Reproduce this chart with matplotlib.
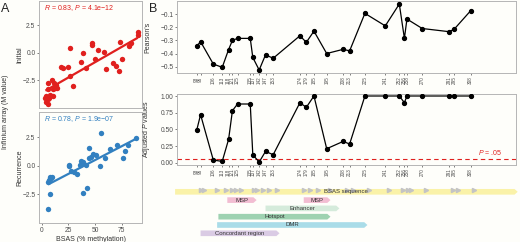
import numpy as np
import matplotlib

matplotlib.use('Agg')
from matplotlib import pyplot as plt
from matplotlib.patches import Polygon

# ---- panel A: BSAS vs Infinium array ----
init_x = [90, 90, 84, 82, 73.5, 75, 67, 70, 72.5, 60, 58.5, 53, 50, 47, 47.5, 42, 39, 36.5,
          26.5, 25, 26.5, 29, 20, 18.5, 9.5, 6, 11.5, 13.5, 12.5, 14.5, 11, 5.5, 8, 10.5,
          4.5, 3.5, 5.5, 7, 4.5, 6]
init_y = [1.85, 1.65, 0.9, 0.6, 0.95, -0.6, -0.9, -1.2, -1.65, -1.5, 0.05, 0.25, -0.6, 0.75,
          0.9, -1.4, -0.05, -0.8, 0.4, -1.3, -2.1, -3.0, -1.35, -1.3, -2.45, -2.75, -2.7,
          -2.9, -3.2, -3.2, -3.3, -3.3, -3.85, -3.9, -3.9, -4.1, -4.2, -4.05, -4.5, -4.6]
rec_x = [88.5, 81, 78, 76, 70.5, 64, 59.5, 55.5, 54.5, 50.5, 48.5, 46, 44.5, 44, 42.5, 39,
         41.5, 38.5, 37, 35.5, 33.5, 30.5, 27.5, 26, 26, 6.5, 7.5, 8.5, 9.5, 6, 8, 6]
rec_y = [2.4, 1.85, 1.25, 0.7, 1.8, 1.45, 0.65, 2.9, -0.05, 0.95, 1.0, 0.8, 1.55, 0.7, -1.9,
         -2.4, 0.05, 0.35, 0.45, 0.1, -0.7, -0.5, -0.45, 0.1, -0.05, -1.25, -1.0, -1.1, -1.0,
         -1.45, -2.45, -3.75]
init_label = '$\\it{R}$ = 0.83, $\\it{P}$ = 4.1e\u221212'
rec_label = '$\\it{R}$ = 0.78, $\\it{P}$ = 1.9e\u221207'

# ---- panel B: per-CpG correlation ----
cpg_pos = [93, 96, 106, 113, 118, 121, 125, 135, 137, 142, 147, 153, 174, 179, 185, 195,
           208, 213, 225, 241, 252, 256, 258, 270, 291, 295, 308]
pearson_r = [-0.343, -0.31, -0.48, -0.505, -0.37, -0.30, -0.285, -0.285, -0.43, -0.525,
             -0.41, -0.436, -0.265, -0.315, -0.23, -0.40, -0.368, -0.38, -0.095, -0.19,
             -0.024, -0.285, -0.138, -0.21, -0.234, -0.216, -0.075]
adj_p = [0.49, 0.72, 0.04, 0.02, 0.35, 0.78, 0.88, 0.88, 0.12, 0.01, 0.17, 0.12, 0.90, 0.83,
         1.0, 0.21, 0.32, 0.28, 1.0, 1.0, 1.0, 0.9, 1.0, 1.0, 1.0, 1.0, 1.0]
p_cut = 0.05

# ---- gene track features ----
feat_name = ['BSAS sequence', 'MSP', 'MSP', 'Enhancer', 'Hotspot', 'DMR', 'Concordant region']
feat_start = [76, 117, 177, 147, 110, 109, 96]
feat_end = [345, 140, 198, 205, 198, 227, 158]
feat_row = [1, 2, 2, 3, 4, 5, 6]
feat_col = {'BSAS sequence': '#faf2a8', 'MSP': '#f2bdd2', 'Enhancer': '#d5ebdb',
            'Hotspot': '#9ed2b1', 'DMR': '#a9dce8', 'Concordant region': '#dacbe4'}

W, H = 520, 242
BG = '#fefefa'
GRID = '#b5b5b5'
TXT = '#4d4d4d'
RED = '#e0201e'
BLUE = '#3280c0'

plt.rcParams['font.family'] = ['Liberation Sans', 'DejaVu Sans']
plt.rcParams['mathtext.fontset'] = 'custom'
plt.rcParams['mathtext.rm'] = 'Liberation Sans'
plt.rcParams['mathtext.it'] = 'Liberation Sans:italic'


def box(l, t, r, b):
    return [l / W, 1 - b / H, (r - l) / W, (b - t) / H]


def style(ax, size=4.8):
    ax.set_facecolor(BG)
    for s in ax.spines.values():
        s.set_color(GRID)
        s.set_linewidth(0.7)
    ax.tick_params(length=1.6, width=0.5, color=TXT, labelcolor=TXT, labelsize=size, pad=1)


def lm_fit(xs, ys):
    mx, my = sum(xs) / len(xs), sum(ys) / len(ys)
    sxy = sum((a - mx) * (c - my) for a, c in zip(xs, ys))
    sxx = sum((a - mx) ** 2 for a in xs)
    slope = sxy / sxx
    return slope, my - slope * mx


fig = plt.figure(figsize=(W / 100, H / 100), dpi=100, facecolor=BG)

# panel A
axA1 = fig.add_axes(box(39, 1, 142, 108))
axA2 = fig.add_axes(box(39, 112, 142, 223))
panels = [(axA1, init_x, init_y, RED, init_label, 'Initial'),
          (axA2, rec_x, rec_y, BLUE, rec_label, 'Recurrence')]
for axA, xs, ys, col, lab, strip in panels:
    style(axA)
    axA.set_xlim(-2.5, 94)
    axA.set_ylim(-5.0, 4.7)
    axA.scatter(xs, ys, s=15, color=col, lw=0, zorder=3)
    slope, icpt = lm_fit(xs, ys)
    x_end = [min(xs), max(xs)]
    y_end = [slope * v + icpt for v in x_end]
    axA.plot(x_end, y_end, color=col, lw=1.6, zorder=6, solid_capstyle='butt')
    axA.set_yticks([-2.5, 0, 2.5])
    axA.set_yticklabels(['\u22122.5', '0.0', '2.5'])
    axA.set_xticks([0, 25, 50, 75])
    axA.text(0.05, 0.985, lab, transform=axA.transAxes, ha='left', va='top', fontsize=5, color=col)
    axA.text(-0.19, 0.5, strip, transform=axA.transAxes, rotation=90, ha='center', va='center',
             fontsize=5, color='#333333')
axA1.tick_params(axis='x', length=0, labelbottom=False)
axA2.set_xlabel('BSAS (% methylation)', fontsize=5, color='#333333', labelpad=1.5)
fig.text(6 / W, 1 - 112 / H, 'Infinium array (M value)', rotation=90, ha='center', va='center',
         fontsize=5, color='#333333')
fig.text(1 / W, 1 - 9 / H, 'A', fontsize=9, ha='left', va='center', color='#222222')

# panel B
axB1 = fig.add_axes(box(177, 1, 516, 73))
axB2 = fig.add_axes(box(177, 94, 516, 165))
style(axB1)
style(axB2)
axB1.plot(cpg_pos, pearson_r, color='black', lw=0.9, marker='o', ms=2.8, zorder=3)
axB1.set_ylim(-0.548, -0.001)
axB1.set_yticks([-0.5, -0.4, -0.3, -0.2, -0.1])
axB1.set_ylabel("Pearson's", fontsize=5, color='#333333', labelpad=2)

axB2.plot(cpg_pos, adj_p, color='black', lw=0.9, marker='o', ms=2.8, zorder=3)
axB2.axhline(p_cut, color=RED, lw=0.8, ls=(0, (4, 3)), zorder=2)
axB2.text(333, 0.16, '$\\it{P}$ = .05', color=RED, fontsize=5, ha='right', va='center')
axB2.set_ylim(-0.034, 1.03)
axB2.set_yticks([0, 0.25, 0.5, 0.75, 1.0])
axB2.set_yticklabels(['0.00', '0.25', '0.50', '0.75', '1.00'])
axB2.set_ylabel('Adjusted $\\it{P}$ values', fontsize=5, color='#333333', labelpad=2)

for axB in (axB1, axB2):
    axB.set_xlim(77.5, 343.6)
    axB.set_xticks(cpg_pos)
    axB.set_xticklabels([str(p) for p in cpg_pos], rotation=90, fontsize=3.3)
    axB.yaxis.set_label_coords(-0.075, 0.5)
fig.text(149 / W, 1 - 9 / H, 'B', fontsize=9, ha='left', va='center', color='#222222')

# gene track
axT = fig.add_axes(box(170, 186, 520, 242))
axT.set_facecolor(BG)
axT.axis('off')
axT.set_xlim(72.0, 346.8)
axT.set_ylim(7.05, 0.3)
axT.plot(np.array(cpg_pos) + 3, np.full(len(cpg_pos), 0.75), '>',
         ms=3.0, color='#c4c4c4', mec='#c4c4c4', lw=0)
half = 0.34
tip = 2.5
for name, x0, x1, r in zip(feat_name, feat_start, feat_end, feat_row):
    pts = [(x0, r - half), (x1 - tip, r - half), (x1, r), (x1 - tip, r + half), (x0, r + half)]
    axT.add_patch(Polygon(pts, closed=True, fc=feat_col[name], ec='none', joinstyle='round'))
    axT.text((x0 + x1) / 2, r, name, fontsize=4.3, ha='center', va='center', color='#333333')

fig.savefig('out.png', dpi=100, facecolor=BG)
